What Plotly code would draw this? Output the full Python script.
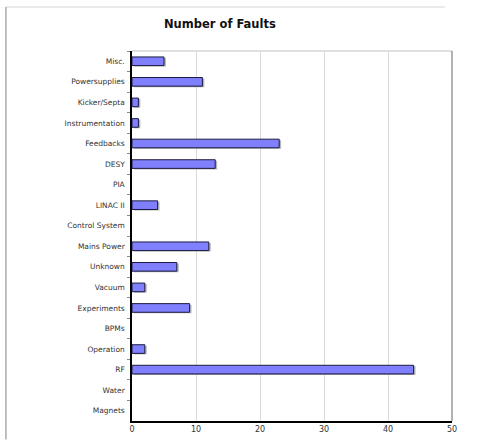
import plotly.graph_objects as go

categories = ["Misc.", "Powersupplies", "Kicker/Septa", "Instrumentation", "Feedbacks",
              "DESY", "PIA", "LINAC II", "Control System", "Mains Power", "Unknown",
              "Vacuum", "Experiments", "BPMs", "Operation", "RF", "Water", "Magnets"]
faults = [5, 11, 1, 1, 23, 13, 0, 4, 0, 12, 7, 2, 9, 0, 2, 44, 0, 0]
x_ticks = [0, 10, 20, 30, 40, 50]
title_text = "Number of Faults"

font = "DejaVu Sans, Liberation Sans, Arial, sans-serif"

shadow_vals = [v if v > 0 else None for v in faults]
line_widths = [1 if v > 0 else 0 for v in faults]

fig = go.Figure()
# shadow
fig.add_trace(go.Bar(
    y=categories, x=shadow_vals, orientation="h", base=0.3,
    width=0.42, offset=-0.16,
    marker=dict(color="rgba(150,150,150,0.7)", line=dict(width=0)),
    hoverinfo="skip", showlegend=False,
))
fig.add_trace(go.Bar(
    y=categories, x=faults, orientation="h",
    width=0.42, offset=-0.21,
    marker=dict(color="#8080ff", line=dict(color="#1a1a40", width=line_widths)),
    showlegend=False,
))

fig.update_layout(
    width=477, height=446,
    margin=dict(l=132, r=25, t=51, b=17),
    paper_bgcolor="white", plot_bgcolor="white",
    barmode="overlay",
    font=dict(family=font, size=7.5, color="#333333"),
    annotations=[dict(text="<b>" + title_text + "</b>", x=0.275, y=1.072,
                      xref="paper", yref="paper", showarrow=False,
                      font=dict(family=font, size=11.5, color="#111111"),
                      xanchor="center", yanchor="middle")],
    shapes=[
        dict(type="line", xref="paper", yref="paper", x0=-0.394, x1=0.978, y0=1.119, y1=1.119,
             line=dict(color="#e3e3e3", width=1.5)),
        dict(type="line", xref="paper", yref="paper", x0=-0.394, x1=-0.394, y0=1.119, y1=-0.05,
             line=dict(color="#aaaaaa", width=1.5)),
        dict(type="line", xref="paper", yref="paper", x0=0, x1=1, y0=1, y1=1,
             line=dict(color="#d6d6d6", width=1.5)),
        dict(type="line", xref="paper", yref="paper", x0=1, x1=1, y0=0, y1=1,
             line=dict(color="#999999", width=1.5)),
    ],
)
fig.update_xaxes(
    range=[0, 50], tickvals=x_ticks, showgrid=True, gridcolor="#d9d9d9", gridwidth=1,
    showline=True, linecolor="black", linewidth=1.5, zeroline=False,
    ticks="", tickfont=dict(size=8, color="#333333"), fixedrange=True,
)
fig.update_yaxes(
    categoryorder="array", categoryarray=categories, autorange="reversed",
    showgrid=False, showline=True, linecolor="black", linewidth=1.5,
    ticks="outside", ticklen=3, tickcolor="#888888", tickson="boundaries",
    tickfont=dict(size=7.5, color="#333333"), ticklabelstandoff=4, fixedrange=True,
)

fig.write_html("out.html", config={"displayModeBar": False},
               post_script="document.body.style.margin='0';document.body.style.overflow='hidden';")
